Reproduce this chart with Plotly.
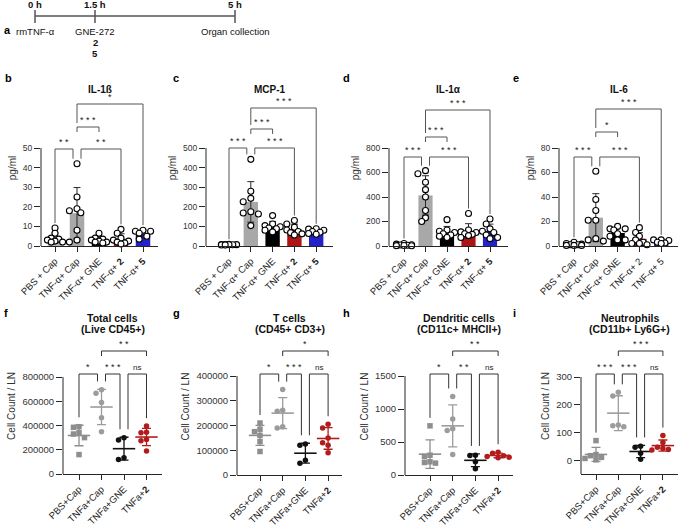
import numpy as np
import plotly.graph_objects as go

W, H = 680, 527
FONT = 'Liberation Sans, Arial, sans-serif'
AX = '#262626'

# ---------------- data ----------------
# serum cytokines (pg/ml), one list per group
cyto_labels = ['PBS + Cap', 'TNF-α+ Cap', 'TNF-α+ GNE', 'TNF-α+ <b>2</b>', 'TNF-α+ <b>5</b>']
cyto_labels_il6 = ['PBS + Cap', 'TNF-α+ Cap', 'TNF-α+ GNE', 'TNF-α+ 2', 'TNF-α+ 5']
cyto_pairs = [(0, 1), (1, 3), (1, 2), (1, 4)]

il1b = [[9.2, 6.5, 4.0, 3.5, 3.0, 2.5, 2.0, 2.0],
        [42, 25, 19, 18, 17, 8, 3, 2],
        [6.5, 4.0, 3.5, 3.0, 2.5, 2.0, 2.0, 1.5],
        [8.5, 6.5, 4.0, 3.0, 2.5, 2.0, 1.5, 1.0],
        [8.0, 7.5, 7.5, 6.5, 5.0, 3.5]]
il1b_sig = ['**', '**', '***', '*']

mcp1 = [[9, 8, 7, 7, 6, 6, 5, 5],
        [442, 279, 243, 226, 175, 168, 163, 104],
        [155, 112, 104, 98, 92, 88, 80, 72],
        [130, 112, 96, 82, 74, 68, 62, 56],
        [88, 86, 80, 74, 70, 64, 60]]
mcp1_sig = ['***', '***', '***', '***']

il1a = [[20, 15, 10, 8, 6, 4, 3, 2],
        [615, 590, 520, 460, 400, 290, 230, 200],
        [215, 130, 120, 110, 100, 90, 80, 70],
        [265, 130, 115, 110, 100, 95, 85, 70],
        [220, 180, 140, 120, 110, 90, 70, 60]]
il1a_sig = ['***', '***', '***', '***']

il6 = [[3.0, 2.0, 1.5, 1.0, 1.0, 0.5, 0.5, 0.5],
       [61, 38, 29, 21, 21, 6, 5, 4],
       [16, 14, 14, 13, 10, 8, 5, 5],
       [15, 11, 8, 5, 3, 2, 2, 1],
       [5.0, 5.0, 4.5, 3.0, 2.5, 2.0]]
il6_sig = ['***', '***', '*', '***']

# lymph node cell counts, one list per group
cell_labels = ['PBS+Cap', 'TNFa+Cap', 'TNFa+GNE', 'TNFa+<b>2</b>']
cell_pairs = [(0, 1), (1, 2), (2, 3), (1, 3)]

total_cells = [[390000, 385000, 340000, 330000, 300000, 160000],
               [694000, 667000, 590000, 463000, 348000],
               [300000, 280000, 135000, 120000],
               [395000, 345000, 340000, 285000, 275000, 190000]]
total_sig = ['*', '***', 'ns', '**']

t_cells = [[210000, 185000, 175000, 160000, 135000, 95000],
           [345000, 262000, 258000, 195000, 190000],
           [125000, 120000, 60000, 47000],
           [205000, 190000, 150000, 130000, 120000, 90000]]
t_sig = ['*', '***', 'ns', '*']

dc_cells = [[745, 300, 280, 200, 190, 180],
            [1190, 850, 700, 675, 310],
            [300, 295, 200, 95],
            [345, 330, 290, 280, 270, 260]]
dc_sig = ['*', '**', 'ns', '**']

neut_cells = [[72, 22, 18, 12, 8, 3],
              [245, 232, 128, 125, 122],
              [52, 48, 27, 5],
              [90, 65, 48, 44, 40, 38]]
neut_sig = ['***', '***', 'ns', '***']

timeline_h = [0, 1.5, 5]
timeline_top = ['0 h', '1.5 h', '5 h']
timeline_below = [['rmTNF-α'], ['GNE-272', '<b>2</b>', '<b>5</b>'], ['Organ collection']]

# ---------------- styling / layout ----------------
cyto_colors = ['#b5b5b5', '#a8a8a8', '#000000', '#ad1414', '#2222c8']
cell_colors = ['#8e8e8e', '#9c9c9c', '#111111', '#b31c1c']
cell_symbols = ['square', 'circle', 'circle', 'circle']

# bracket (level, left leg, right leg) for each comparison
cyto_brk = [(0, 'data', 'data'), (0, 'data', 'data'), (1, 'short', 'short'), (2, 'next', 'data')]
cell_brk = [(0, 'data', 'data'), (0, 'data', 'data'), (0, 'data', 'data'), (1, 'short', 'short')]

# pixel geometry: left, right, first category px, category step,
# zero px, top tick px, axis px, domain top px
panels = [
    dict(letter='b', title=['IL-1ß'], vals=il1b, ticks=cyto_labels, sig=il1b_sig, kind='bar',
         box=(41, 158, 55, 22.0), zero=246, tt=148, axis=246, dom_top=90, ymax=50, dtick=10,
         ytitle='pg/ml', levels=(149, 127, 104), lpx=(3, 70)),
    dict(letter='c', title=['MCP-1'], vals=mcp1, ticks=cyto_labels, sig=mcp1_sig, kind='bar',
         box=(206, 333, 229, 21.8), zero=246, tt=148, axis=246, dom_top=90, ymax=500, dtick=100,
         ytitle='pg/ml', levels=(148, 129, 108), lpx=(171, 70)),
    dict(letter='d', title=['IL-1α'], vals=il1a, ticks=cyto_labels, sig=il1a_sig, kind='bar',
         box=(389, 508, 404, 21.5), zero=246, tt=148, axis=246, dom_top=90, ymax=800, dtick=200,
         ytitle='pg/ml', levels=(157, 137, 110), lpx=(341, 70)),
    dict(letter='e', title=['IL-6'], vals=il6, ticks=cyto_labels_il6, sig=il6_sig, kind='bar',
         box=(559, 678, 574, 21.8), zero=246, tt=148, axis=246, dom_top=90, ymax=80, dtick=20,
         ytitle='pg/ml', levels=(157, 132, 109), lpx=(511, 70)),
    dict(letter='f', title=['Total cells', '(Live CD45+)'], vals=total_cells, ticks=cell_labels,
         sig=total_sig, kind='dot', box=(63, 162, 79, 22.5), zero=474, tt=377, axis=474, dom_top=338,
         ymax=800000, dtick=200000, ytitle='Cell Count / LN', levels=(374, 351), lpx=(2, 313)),
    dict(letter='g', title=['T cells', '(CD45+ CD3+)'], vals=t_cells, ticks=cell_labels,
         sig=t_sig, kind='dot', box=(237, 342, 260, 22.7), zero=475, tt=376, axis=475, dom_top=338,
         ymax=400000, dtick=100000, ytitle='Cell Count / LN', levels=(374, 351), lpx=(171, 313)),
    dict(letter='h', title=['Dendritic cells', '(CD11c+ MHCII+)'], vals=dc_cells, ticks=cell_labels,
         sig=dc_sig, kind='dot', box=(405, 513, 430, 22.7), zero=475, tt=376, axis=475, dom_top=338,
         ymax=1500, dtick=500, ytitle='Cell Count / LN', levels=(374, 351), lpx=(341, 313)),
    dict(letter='i', title=['Neutrophils', '(CD11b+ Ly6G+)'], vals=neut_cells, ticks=cell_labels,
         sig=neut_sig, kind='dot', box=(581, 678, 596, 22.3), zero=460.7, tt=377, axis=474, dom_top=338,
         ymax=300, dtick=100, ytitle='Cell Count / LN', levels=(374, 351), lpx=(511, 313)),
]


def swarm(vals, ppu, step_px, size_px, unit_px, nslot=2):
    # simple beeswarm: spread points that would overlap sideways
    vals = np.asarray(vals, float)
    order = np.argsort(-vals, kind='stable')
    slots = [0]
    for s in range(1, nslot + 1):
        slots += [-s, s]
    placed, offs = [], np.zeros(len(vals))
    for i in order:
        y = vals[i] * ppu
        best, best_d = 0.0, -1.0
        for s in slots:
            xo = s * step_px
            d = min([np.hypot(xo - px, y - py) for px, py in placed] or [1e9])
            if d >= size_px:
                best = xo
                break
            if d > best_d:
                best, best_d = xo, d
        placed.append((best, y))
        offs[i] = best / unit_px
    return offs


fig = go.Figure()
shapes, annos, lay = [], [], {}

for n, p in enumerate(panels, start=1):
    xa = 'x' if n == 1 else 'x%d' % n
    ya = 'y' if n == 1 else 'y%d' % n
    left, right, c0, step = p['box']
    ppu = (p['zero'] - p['tt']) / p['ymax']
    ymin = -(p['axis'] - p['zero']) / ppu
    ytop = (p['zero'] - p['dom_top']) / ppu
    ng = len(p['vals'])
    means = [float(np.mean(v)) for v in p['vals']]
    sds = [float(np.std(v, ddof=1)) for v in p['vals']]
    tops = [max(max(v), m + s) for v, m, s in zip(p['vals'], means, sds)]
    bar = p['kind'] == 'bar'

    if bar:
        fig.add_trace(go.Bar(x=list(range(ng)), y=means, width=0.66, xaxis=xa, yaxis=ya,
                             marker=dict(color=cyto_colors, line=dict(width=0)),
                             error_y=dict(type='data', array=sds, color='#2a2a2a',
                                          thickness=1, width=3.5),
                             showlegend=False))
        for g, v in enumerate(p['vals']):
            offs = swarm(v, ppu, 3.8, 5.2, step, nslot=2)
            fig.add_trace(go.Scatter(x=g + offs, y=v, mode='markers', xaxis=xa, yaxis=ya,
                                     cliponaxis=False, showlegend=False,
                                     marker=dict(symbol='circle', size=6, color='white',
                                                 line=dict(color='black', width=1.1))))
    else:
        for g, v in enumerate(p['vals']):
            col = cell_colors[g]
            offs = swarm(v, ppu, 5.5, 5.0, step, nslot=2)
            fig.add_trace(go.Scatter(x=g + offs, y=v, mode='markers', xaxis=xa, yaxis=ya,
                                     cliponaxis=False, showlegend=False,
                                     marker=dict(symbol=cell_symbols[g], size=5.5, color=col,
                                                 line=dict(width=0))))
            fig.add_trace(go.Scatter(x=[g], y=[means[g]], mode='markers', xaxis=xa, yaxis=ya,
                                     cliponaxis=False, showlegend=False,
                                     marker=dict(symbol='line-ew', size=16,
                                                 line=dict(color=col, width=1.6)),
                                     error_y=dict(type='data', array=[sds[g]], color=col,
                                                  thickness=1.3, width=4.5)))

    lay['xaxis' if n == 1 else 'xaxis%d' % n] = dict(
        domain=[left / W, right / W], range=[(left - c0) / step, (right - c0) / step],
        anchor=ya, showline=True, linecolor=AX, linewidth=1, ticks='outside', ticklen=5,
        tickcolor=AX, tickwidth=1, tickvals=list(range(ng)), ticktext=p['ticks'], tickangle=-45,
        tickfont=dict(size=9.5, color='#1a1a1a'), showgrid=False, zeroline=False)
    lay['yaxis' if n == 1 else 'yaxis%d' % n] = dict(
        domain=[1 - p['axis'] / H, 1 - p['dom_top'] / H], range=[ymin, ytop], anchor=xa,
        showline=False, ticks='outside', ticklen=6, tickcolor=AX, tickwidth=1,
        tickvals=list(np.arange(0, p['ymax'] + p['dtick'] / 2, p['dtick'])), tickformat='d',
        tickfont=dict(size=8.5 if bar else 9.5, color='#333'), showgrid=False, zeroline=False,
        title=dict(text=p['ytitle'], font=dict(size=10, color='#333'), standoff=4))

    # y axis line only up to the top tick
    shapes.append(dict(type='line', xref=xa + ' domain', yref=ya, x0=0, x1=0, y0=ymin,
                       y1=p['ymax'], line=dict(color=AX, width=1)))

    # significance brackets
    brk = cyto_brk if bar else cell_brk
    pairs = cyto_pairs if bar else cell_pairs
    gap = 5 if bar else 8
    bcol = '#555' if bar else '#333'
    for k, ((a, b), (lvl, la, lb)) in enumerate(zip(pairs, brk)):
        ypx = p['levels'][lvl]
        ends = []
        for g, leg, side in ((a, la, 1), (b, lb, -1)):
            shared = any(g in pr and bk[0] == lvl for j, (pr, bk) in enumerate(zip(pairs, brk)) if j != k)
            x = g + (side * 4.0 / step if shared else 0)
            if leg == 'data':
                lpx = max(p['zero'] - tops[g] * ppu - gap, ypx + 4)
            elif leg == 'next':
                lpx = p['levels'][lvl - 1] - 4
            else:
                lpx = ypx + 5
            ends.append((x, lpx))
        yb = (p['zero'] - ypx) / ppu
        y_a = (p['zero'] - ends[0][1]) / ppu
        y_b = (p['zero'] - ends[1][1]) / ppu
        shapes.append(dict(type='path', xref=xa, yref=ya,
                           path='M %f,%f L %f,%f L %f,%f L %f,%f' % (
                               ends[0][0], y_a, ends[0][0], yb, ends[1][0], yb, ends[1][0], y_b),
                           line=dict(color=bcol, width=1)))
        txt = p['sig'][k]
        if txt != 'ns':
            txt = ' '.join(txt)
        annos.append(dict(xref=xa, yref=ya, x=(ends[0][0] + ends[1][0]) / 2, y=yb,
                          yanchor='bottom', yshift=0, showarrow=False, text=txt,
                          font=dict(size=9 if txt != 'ns' else 8, color='#222')))

    # titles and panel letters
    if bar:
        annos.append(dict(xref=xa + ' domain', yref='paper', x=0.5, y=1 - 82 / H, showarrow=False,
                          text='<b>%s</b>' % p['title'][0], font=dict(size=10, color='#111')))
    else:
        for j, t in enumerate(p['title']):
            annos.append(dict(xref=xa + ' domain', yref='paper', x=0.5, y=1 - (318 + 11 * j) / H,
                              showarrow=False, text='<b>%s</b>' % t,
                              font=dict(size=10.5, color='#111')))
    annos.append(dict(xref='paper', yref='paper', x=p['lpx'][0] / W, y=1 - p['lpx'][1] / H,
                      xanchor='left', showarrow=False, text='<b>%s</b>' % p['letter'],
                      font=dict(size=11, color='black')))

# ---- timeline (panel a) on a hidden axis in hours ----
lay['xaxis9'] = dict(domain=[25 / W, 245 / W], range=[-0.25, 5.25], visible=False, anchor='y9')
lay['yaxis9'] = dict(domain=[1 - 60 / H, 1], range=[60, 0], visible=False, anchor='x9')
shapes.append(dict(type='line', xref='x9', yref='y9', x0=timeline_h[0], x1=timeline_h[-1],
                   y0=16, y1=16, line=dict(color='#555', width=1.5)))
for t, top, below in zip(timeline_h, timeline_top, timeline_below):
    shapes.append(dict(type='line', xref='x9', yref='y9', x0=t, x1=t, y0=10, y1=23,
                       line=dict(color='#555', width=1.5)))
    annos.append(dict(xref='x9', yref='y9', x=t, y=4, showarrow=False, text='<b>%s</b>' % top,
                      font=dict(size=9.5, color='#111')))
    for j, b in enumerate(below):
        annos.append(dict(xref='x9', yref='y9', x=t, y=31 + 11 * j, showarrow=False, text=b,
                          font=dict(size=9.5, color='#111')))
annos.append(dict(xref='paper', yref='paper', x=2 / W, y=1 - 22 / H, xanchor='left',
                  showarrow=False, text='<b>a</b>', font=dict(size=11, color='black')))

fig.update_layout(template='none', width=W, height=H, margin=dict(l=0, r=0, t=0, b=0),
                  paper_bgcolor='white', plot_bgcolor='white', showlegend=False,
                  font=dict(family=FONT, color='#222'), shapes=shapes, annotations=annos,
                  bargap=0.3, **lay)

fig.write_html('out.html', config={'displayModeBar': False},
               post_script="document.body.style.margin='0';")
